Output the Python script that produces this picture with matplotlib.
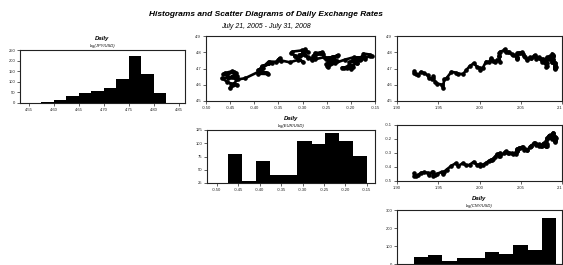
import numpy as np
import matplotlib
matplotlib.use("Agg")
import matplotlib.pyplot as plt

plt.rcParams['font.family'] = ['Liberation Sans', 'DejaVu Sans']

# ---------------- data ----------------
title = "Histograms and Scatter Diagrams of Daily Exchange Rates"
subtitle = "July 21, 2005 - July 31, 2008"
names = ["log(JPY/USD)", "log(EUR/USD)", "log(CNY/USD)"]

# histogram bins / counts
jpy_edges = [4.575, 4.600, 4.625, 4.650, 4.675, 4.700, 4.725, 4.750, 4.775, 4.800, 4.825]
jpy_counts = [5, 14, 31, 47, 58, 73, 114, 223, 137, 47]
eur_edges = [-0.473, -0.441, -0.408, -0.376, -0.344, -0.312, -0.279, -0.247, -0.215, -0.182, -0.150]
eur_counts = [79, 29, 66, 40, 40, 104, 98, 120, 104, 76]
cny_edges = [1.921, 1.938, 1.955, 1.973, 1.990, 2.007, 2.024, 2.041, 2.059, 2.076, 2.093]
cny_counts = [38, 51, 19, 32, 32, 66, 57, 104, 79, 255]

# log exchange rate series (sampled roughly every 10 days)
jpy = [4.712, 4.721, 4.702, 4.700, 4.705, 4.704, 4.717, 4.731, 4.736, 4.752, 4.760, 4.775,
       4.779, 4.786, 4.792, 4.758, 4.769, 4.741, 4.738, 4.766, 4.771, 4.774, 4.761, 4.772,
       4.762, 4.767, 4.770, 4.754, 4.733, 4.710, 4.717, 4.725, 4.738, 4.749, 4.740, 4.748,
       4.760, 4.742, 4.751, 4.756, 4.762, 4.769, 4.756, 4.769, 4.782, 4.778, 4.764, 4.766,
       4.770, 4.752, 4.760, 4.773, 4.779, 4.791, 4.799, 4.793, 4.798, 4.796, 4.766, 4.760,
       4.767, 4.770, 4.783, 4.777, 4.784, 4.788, 4.800, 4.802, 4.803, 4.817, 4.811, 4.804,
       4.794, 4.777, 4.776, 4.741, 4.754, 4.738, 4.749, 4.753, 4.764, 4.741, 4.743, 4.704,
       4.689, 4.705, 4.711, 4.732, 4.714, 4.690, 4.666, 4.668, 4.675, 4.680, 4.640, 4.633,
       4.580, 4.601, 4.607, 4.620, 4.640, 4.652, 4.637, 4.640, 4.659, 4.671, 4.680, 4.663,
       4.665, 4.672, 4.683]
eur = [-0.195, -0.203, -0.215, -0.200, -0.219, -0.209, -0.200, -0.187, -0.188, -0.181, -0.187, -0.157,
       -0.160, -0.161, -0.174, -0.171, -0.170, -0.192, -0.203, -0.189, -0.176, -0.174, -0.178, -0.176,
       -0.191, -0.192, -0.193, -0.213, -0.233, -0.247, -0.249, -0.251, -0.235, -0.229, -0.245, -0.244,
       -0.234, -0.247, -0.245, -0.251, -0.248, -0.239, -0.241, -0.237, -0.227, -0.229, -0.247, -0.251,
       -0.255, -0.281, -0.281, -0.274, -0.278, -0.257, -0.259, -0.264, -0.262, -0.274, -0.279, -0.274,
       -0.289, -0.289, -0.296, -0.306, -0.307, -0.302, -0.298, -0.299, -0.289, -0.295, -0.302, -0.321,
       -0.324, -0.315, -0.316, -0.299, -0.309, -0.326, -0.344, -0.351, -0.347, -0.354, -0.370, -0.384,
       -0.393, -0.382, -0.385, -0.363, -0.384, -0.389, -0.372, -0.393, -0.374, -0.391, -0.419, -0.434,
       -0.451, -0.435, -0.448, -0.457, -0.467, -0.435, -0.437, -0.454, -0.441, -0.437, -0.441, -0.456,
       -0.464, -0.461, -0.446]
cny = [2.093, 2.092, 2.092, 2.092, 2.091, 2.091, 2.091, 2.091, 2.091, 2.089, 2.089, 2.089,
       2.089, 2.089, 2.088, 2.088, 2.088, 2.088, 2.088, 2.087, 2.086, 2.086, 2.084, 2.084,
       2.083, 2.082, 2.082, 2.081, 2.082, 2.081, 2.082, 2.081, 2.079, 2.078, 2.078, 2.077,
       2.077, 2.076, 2.076, 2.074, 2.072, 2.072, 2.069, 2.068, 2.067, 2.066, 2.063, 2.062,
       2.061, 2.058, 2.057, 2.055, 2.054, 2.053, 2.052, 2.049, 2.048, 2.046, 2.046, 2.046,
       2.045, 2.045, 2.044, 2.044, 2.041, 2.039, 2.036, 2.035, 2.032, 2.031, 2.030, 2.025,
       2.024, 2.024, 2.024, 2.025, 2.021, 2.019, 2.016, 2.015, 2.014, 2.012, 2.008, 2.004,
       2.001, 2.000, 1.997, 1.993, 1.988, 1.984, 1.980, 1.974, 1.971, 1.966, 1.960, 1.957,
       1.956, 1.954, 1.949, 1.946, 1.944, 1.944, 1.943, 1.939, 1.937, 1.933, 1.929, 1.926,
       1.923, 1.921, 1.921]

jpy_ticks = [4.5, 4.6, 4.7, 4.8, 4.9]
eur_ticks = [-0.5, -0.4, -0.3, -0.2, -0.1]
eur_xticks = [-0.50, -0.45, -0.40, -0.35, -0.30, -0.25, -0.20, -0.15]
cny_ticks = [1.90, 1.95, 2.00, 2.05, 2.10]
cny_labels = ["1.90", "1.95", "2.00", "2.05", "2.1"]
h1_xticks = [4.55, 4.60, 4.65, 4.70, 4.75, 4.80, 4.85]
h1_yticks = [0, 50, 100, 150, 200, 250]
h2_yticks = [25, 50, 75, 100, 125]
h3_yticks = [0, 100, 200, 300]

# ---------------- figure ----------------
W, H = 563, 265
fig = plt.figure(figsize=(W / 100, H / 100), dpi=100)
fig.patch.set_facecolor('white')


def add_ax(l, t, r, b):
    return fig.add_axes([l / W, 1 - b / H, (r - l) / W, (b - t) / H])


def style(ax):
    for s in ax.spines.values():
        s.set_color('#222222')
        s.set_linewidth(0.8)
    ax.tick_params(direction='out', length=2, width=0.5, labelsize=3, pad=1.5, colors='#222222')


def hist_titles(ax, sub):
    ax.text(0.5, 1.17, "Daily", transform=ax.transAxes, ha='center', va='bottom',
            fontsize=4.3, fontweight='bold', fontstyle='italic')
    ax.text(0.5, 1.03, sub, transform=ax.transAxes, ha='center', va='bottom',
            fontsize=3, fontstyle='italic')


def cny_axis(ax):
    ax.set_xlim(1.90, 2.10)
    ax.set_xticks(cny_ticks)
    ax.set_xticklabels(cny_labels)
    ax.get_xticklabels()[-1].set_ha('right')


fig.text(266 / W, 1 - 15 / H, title, ha='center', va='center', fontsize=6.0,
         fontweight='bold', fontstyle='italic')
fig.text(266 / W, 1 - 27 / H, subtitle, ha='center', va='center', fontsize=5.0,
         fontstyle='italic')

sc_kw = dict(color='black', lw=1.9, marker='o', ms=2.3, ls='-')

# histogram 1
h1 = add_ax(20, 50, 185, 103)
h1.stairs(jpy_counts, jpy_edges, fill=True, color='black')
h1.set_xlim(4.533, 4.863)
h1.set_ylim(0, 250)
h1.set_xticks(h1_xticks)
h1.set_xticklabels([f"{v:.2f}" for v in h1_xticks])
h1.set_yticks(h1_yticks)
style(h1)
hist_titles(h1, names[0])

# scatter JPY vs EUR
s12 = add_ax(206, 36, 375, 101)
s12.plot(eur, jpy, **sc_kw)
s12.set_xlim(-0.50, -0.15)
s12.set_ylim(4.5, 4.9)
s12.set_xticks(eur_xticks)
s12.set_xticklabels([f"{v:.2f}" for v in eur_xticks])
s12.set_yticks(jpy_ticks)
s12.set_yticklabels([f"{v:.1f}" for v in jpy_ticks])
style(s12)

# scatter JPY vs CNY
s13 = add_ax(397, 36, 562, 101)
s13.plot(cny, jpy, **sc_kw)
cny_axis(s13)
s13.set_ylim(4.5, 4.9)
s13.set_yticks(jpy_ticks)
s13.set_yticklabels([f"{v:.1f}" for v in jpy_ticks])
style(s13)

# histogram 2
h2 = add_ax(207, 130, 375, 183)
h2.stairs(eur_counts, eur_edges, fill=True, color='black')
h2.set_xlim(-0.523, -0.131)
h2.set_ylim(25, 125)
h2.set_xticks(eur_xticks)
h2.set_xticklabels([f"{v:.2f}" for v in eur_xticks])
h2.set_yticks(h2_yticks)
style(h2)
hist_titles(h2, names[1])

# scatter EUR vs CNY
s23 = add_ax(397, 125, 562, 181)
s23.plot(cny, eur, **sc_kw)
cny_axis(s23)
s23.set_ylim(-0.5, -0.1)
s23.set_yticks(eur_ticks)
s23.set_yticklabels([f"{v:.1f}" for v in eur_ticks])
style(s23)

# histogram 3 (its bottom sits on the picture's edge, as in the reference)
h3 = add_ax(397, 210, 562, 264)
h3.stairs(cny_counts, cny_edges, fill=True, color='black')
h3.set_xlim(1.90, 2.10)
h3.set_ylim(0, 300)
h3.set_xticks(cny_ticks)
h3.tick_params(labelbottom=False)
h3.set_yticks(h3_yticks)
style(h3)
h3.tick_params(labelbottom=False)
hist_titles(h3, names[2])

fig.savefig("out.png", dpi=100, facecolor='white')
